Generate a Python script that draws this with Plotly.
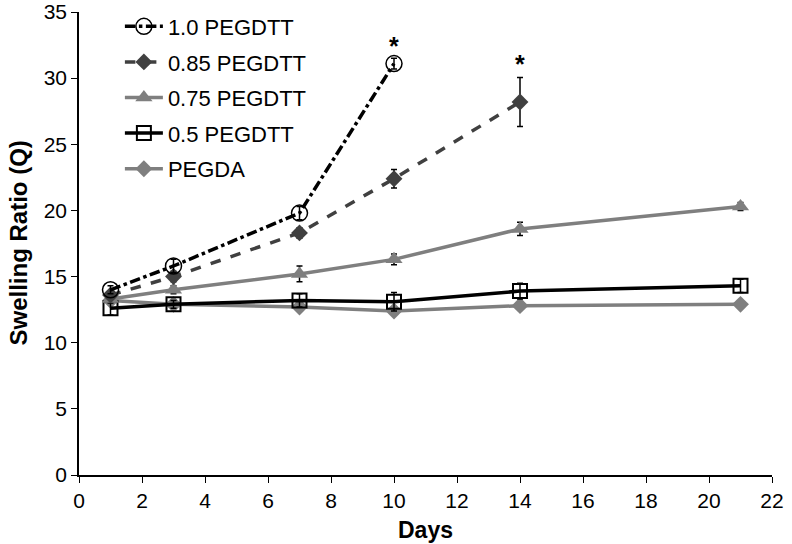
import plotly.graph_objects as go

days_a = [1, 3, 7, 10]
peg10 = [14.0, 15.8, 19.8, 31.1]
peg10_err = [0.3, 0.5, 0.5, 0.4]

days_b = [1, 3, 7, 10, 14]
peg085 = [13.6, 15.0, 18.3, 22.4, 28.2]
peg085_err = [0.3, 0.4, 0.4, 0.7, 1.85]

days_c = [1, 3, 7, 10, 14, 21]
peg075 = [13.3, 14.0, 15.2, 16.3, 18.6, 20.3]
peg075_err = [0.3, 0.3, 0.6, 0.4, 0.5, 0.3]

peg05 = [12.6, 12.9, 13.2, 13.1, 13.9, 14.3]
peg05_err = [0.5, 0.3, 0.5, 0.7, 0.6, 0.5]

pegda = [13.2, 12.9, 12.7, 12.4, 12.8, 12.9]
pegda_err = [0.2, 0.2, 0.2, 0.2, 0.2, 0.2]

names = ["1.0 PEGDTT", "0.85 PEGDTT", "0.75 PEGDTT", "0.5 PEGDTT", "PEGDA"]
star_x = [10, 14]
star_y = [32.4, 31.1]

FONT = "Arial, Liberation Sans, sans-serif"

fig = go.Figure()

def eb(arr):
    return dict(type="data", array=arr, visible=True, color="black", thickness=1.5, width=3)

fig.add_trace(go.Scatter(x=days_c, y=pegda, name=names[4], legendgroup="e", legendrank=5,
    mode="lines+markers", line=dict(color="#7f7f7f", width=3.5),
    marker=dict(symbol="diamond", size=13, color="#7f7f7f"), error_y=eb(pegda_err)))
fig.add_trace(go.Scatter(x=days_c, y=peg05, name=names[3], legendgroup="d", legendrank=4,
    mode="lines+markers", line=dict(color="black", width=3.5),
    marker=dict(symbol="square-open", size=14, color="black", line=dict(width=2)),
    error_y=eb(peg05_err)))
fig.add_trace(go.Scatter(x=days_c, y=peg075, name=names[2], legendgroup="c", legendrank=3,
    mode="lines+markers", line=dict(color="#7f7f7f", width=3.5),
    marker=dict(symbol="triangle-up", size=15, color="#7f7f7f"), error_y=eb(peg075_err)))
fig.add_trace(go.Scatter(x=days_b, y=peg085, name=names[1], legendgroup="b", legendrank=2,
    mode="lines+markers", line=dict(color="#404040", width=3.5, dash="dash"),
    marker=dict(symbol="diamond", size=13, color="#404040"), error_y=eb(peg085_err)))
fig.add_trace(go.Scatter(x=days_a, y=peg10, name=names[0], legendgroup="a", legendrank=1,
    mode="lines+markers", line=dict(color="black", width=3.5, dash="dashdot"),
    marker=dict(symbol="circle-open", size=16, color="black", line=dict(width=1.5)),
    error_y=eb(peg10_err)))

for sx, sy in zip(star_x, star_y):
    fig.add_annotation(x=sx, y=sy, text="<b>*</b>", showarrow=False,
                       font=dict(size=25, color="black", family=FONT))

fig.add_annotation(xref="paper", yref="paper", x=0.5, y=-0.118, yanchor="middle",
                   text="<b>Days</b>", showarrow=False, font=dict(size=23, family=FONT))
fig.add_annotation(xref="paper", yref="paper", x=-0.088, y=0.5, xanchor="center",
                   text="<b>Swelling Ratio (Q)</b>", textangle=-90, showarrow=False,
                   font=dict(size=24, family=FONT))

fig.update_layout(
    width=792, height=544,
    margin=dict(l=79, r=20, t=12, b=69, autoexpand=False),
    paper_bgcolor="white", plot_bgcolor="white",
    font=dict(family=FONT, size=22, color="black"),
    showlegend=True,
    legend=dict(x=0.059, y=1.014, xanchor="left", yanchor="top", bgcolor="rgba(0,0,0,0)",
                traceorder="grouped", tracegroupgap=4, itemwidth=38, font=dict(size=22)),
    xaxis=dict(range=[0, 22], tickmode="linear", tick0=0, dtick=2, automargin=False,
               ticklabeloverflow="allow", tickfont=dict(size=21),
               showline=True, linecolor="black", linewidth=1.5, ticks="outside",
               ticklen=6, tickcolor="black", showgrid=False, zeroline=False),
    yaxis=dict(range=[0, 35], tickmode="linear", tick0=0, dtick=5, automargin=False,
               ticklabeloverflow="allow", tickfont=dict(size=21),
               showline=True, linecolor="black", linewidth=1.5, ticks="outside",
               ticklen=6, tickcolor="black", showgrid=False, zeroline=False),
)

fig.write_html("out.html", config={"displayModeBar": False},
               post_script="document.body.style.margin='0';")
